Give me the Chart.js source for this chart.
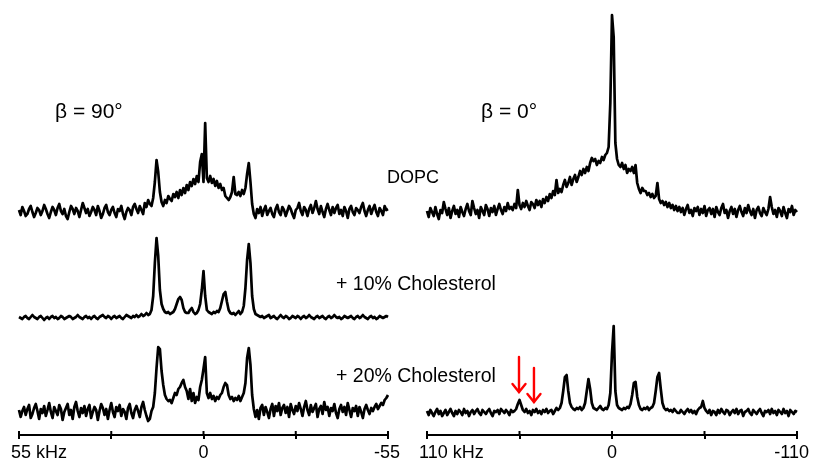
<!DOCTYPE html>
<html>
<head>
<meta charset="utf-8">
<script src="https://cdn.jsdelivr.net/npm/chart.js@4.4.0/dist/chart.umd.min.js"></script>
<style>
  body { margin: 0; background: #fff; }
  #wrap { position: relative; width: 814px; height: 461px; overflow: hidden; font-family: "Liberation Sans", Arial, sans-serif; }
  canvas { position: absolute; top: 0; }
  .lbl { position: absolute; white-space: nowrap; line-height: 1; color: #000; }
</style>
</head>
<body>
<div id="wrap">
  <canvas id="left" width="407" height="461" style="left:0"></canvas>
  <canvas id="right" width="407" height="461" style="left:407px"></canvas>
  <div class="lbl" style="left:55px;top:100px;font-size:21px">β = 90°</div>
  <div class="lbl" style="left:481px;top:100px;font-size:21px">β = 0°</div>
  <div class="lbl" style="left:387px;top:168px;font-size:18px">DOPC</div>
  <div class="lbl" style="left:336px;top:274px;font-size:19.5px">+ 10% Cholesterol</div>
  <div class="lbl" style="left:336px;top:366px;font-size:19.5px">+ 20% Cholesterol</div>
</div>
<script>
// frequency grid (kHz): start and step of the sampled points
const leftStart = 55, leftStep = -0.5;   // beta = 90, 55 .. -55 kHz
const rightStart = 110, rightStep = -1;  // beta = 0, 110 .. -110 kHz

// tick values and their labels
const leftTickValues = [55, 27.5, 0, -27.5, -55];
const leftTickLabels = ['55 kHz', '', '0', '', '-55'];
const rightTickValues = [110, 55, 0, -55, -110];
const rightTickLabels = ['110 kHz', '', '0', '', '-110'];

// spectra, intensity above each trace baseline
const leftDopc = [
  2,-3,5,1,-4,-2,3,6,0,-5, -1,4,2,-3,1,7,3,-2,-6,0, 5,2,-3,4,8,1,-2,3,-4,-7,
  0,6,3,-2,4,1,-5,2,9,4, -1,3,-4,0,5,2,-3,6,1,-6, -2,4,7,0,-3,2,5,-1,-5,3,
  1,6,-2,-7,0,4,2,-3,5,8, 3,-1,6,2,-2,9,5,12,8,6, 14,30,52,40,20,10,6,12,9,16,
  13,11,18,15,20,14,22,17,24,19, 27,22,30,26,33,28,36,30,50,58, 30,89,34,30,36,29,33,26,31,24,
  28,22,24,16,14,12,15,20,35,18, 17,20,16,22,18,24,38,49,30,8, -2,-6,3,-1,5,-4,2,6,-3,1,
  4,-2,-5,3,7,0,-3,5,2,-4, 1,6,3,-2,-6,2,4,9,1,-3, 5,2,-4,3,7,-1,4,11,3,-2,
  6,0,-5,3,8,2,-3,5,-1,4, 7,-2,2,-4,5,1,-6,3,6,0, -3,4,2,-1,5,9,1,-4,2,6,
  -2,3,7,0,-4,4,1,-3,6,2, 3];
const leftChol10 = [
  1,0,-1,1,2,0,-1,1,3,1, 0,-1,1,2,0,-2,0,1,-1,1, 2,0,1,-1,0,2,1,-1,0,1,
  2,1,-1,0,1,3,1,0,-1,1, 2,0,1,-1,1,2,0,-1,1,2, 3,1,0,2,1,-1,1,2,0,1,
  2,0,-1,1,3,2,1,0,2,1, 3,1,2,4,2,3,5,3,4,8, 22,55,80,62,28,14,9,6,5,6,
  4,5,6,9,14,19,21,18,10,6, 5,5,8,10,6,4,5,8,14,28, 47,22,8,6,5,4,6,5,7,6,
  10,17,24,26,16,8,5,4,5,3, 5,7,4,6,12,30,58,74,55,22, 9,4,3,2,1,2,0,1,2,3,
  0,1,2,0,-1,1,3,1,0,2, 1,-1,0,2,1,0,2,1,-1,1, 2,0,1,3,1,0,-1,1,2,0,
  1,2,0,-1,1,2,0,1,3,1, 0,1,-1,0,2,1,0,1,2,0, -1,1,2,0,1,3,1,0,-1,1,
  2,0,1,-1,0,2,1,0,1,2, 1];
const leftChol20 = [
  3,-4,2,6,-2,4,8,-5,-1,5, 9,2,-6,4,0,7,-3,3,10,1, -5,6,2,-2,8,4,-7,1,5,9,
  -2,3,-6,6,11,2,-4,5,0,7, -3,4,8,-5,1,6,3,-7,2,9, 5,-2,4,-6,3,10,1,-4,6,2,
  8,-3,4,1,-6,5,9,0,-5,3, 7,2,-4,6,11,3,-3,-8,-6,2, 6,20,45,66,64,42,28,18,14,12,
  13,10,15,20,18,24,26,30,33,26, 22,14,24,12,20,10,16,13,26,33, 44,56,20,15,20,14,17,12,16,14,
  18,20,26,30,28,18,14,16,12,15, 13,17,12,16,20,30,55,65,48,18, 4,-4,3,-6,5,8,-2,6,1,-5,
  4,9,-3,7,2,10,-2,5,8,0, 6,-4,9,3,-1,7,2,10,4,-3, 6,12,3,-2,8,1,5,9,-4,4,
  7,-1,11,3,6,-3,5,2,9,0, -5,4,8,1,6,-2,10,3,-4,5, 2,7,-3,6,1,-5,4,8,3,-1,
  5,2,6,9,4,7,10,8,13,15, 18];
const rightDopc = [
  2,-4,5,1,-3,6,-1,-6,3,0, 11,4,-2,5,-5,2,7,-1,3,-4, 6,1,-3,4,9,2,-2,12,5,-1,
  3,-5,6,2,-2,8,4,-3,5,1, 7,-2,4,9,3,-1,6,2,10,4, 6,3,9,5,23,8,4,10,6,12,
  7,3,11,9,5,13,8,12,6,14, 10,16,12,19,15,22,18,33,20,24, 21,28,33,26,30,36,28,34,38,31,
  36,42,38,44,40,46,42,50,55,52, 54,48,52,50,56,53,58,60,66,110, 198,176,70,54,48,46,50,44,48,40,
  44,42,46,40,48,30,24,20,25,22, 22,18,20,16,19,15,17,30,14,10, 12,8,11,6,10,5,8,3,7,2,
  6,1,5,-2,4,8,0,3,-3,5, 2,6,-2,4,0,7,-3,3,5,-1, 4,-4,6,1,-2,5,9,0,3,-5,
  2,6,-1,4,-4,3,7,1,-3,5, 0,8,2,-2,4,-5,3,6,0,-3, 5,1,-2,4,16,6,-1,3,-4,5,
  2,-3,6,0,-5,4,1,7,-2,3, 1];
const rightChol20 = [
  2,-2,3,0,-3,1,4,-1,2,-3, 0,3,-2,1,4,0,-3,2,-1,3, 1,-2,4,0,2,-3,1,3,-1,2,
  4,0,-2,3,1,-1,2,4,0,-3, 2,1,3,-1,4,2,0,3,1,-2, 3,1,2,4,9,13,8,3,1,4,
  0,2,-2,3,1,4,0,2,-1,3, 1,4,0,2,3,-1,2,5,3,5, 10,22,36,38,22,10,6,4,3,5,
  4,6,3,5,10,22,34,24,10,5, 4,3,5,7,4,3,5,4,8,20, 60,87,22,8,5,4,3,5,4,6,
  5,9,18,30,31,16,8,4,3,5, 4,6,3,5,6,10,22,36,40,24, 10,5,3,4,2,3,1,4,2,0,
  0,3,1,-1,2,4,1,3,0,2, -1,3,5,6,12,5,2,0,3,-2, 2,1,-2,3,0,4,1,-1,3,2,
  -2,1,3,0,4,-1,2,3,-3,1, 2,4,0,-2,3,1,-1,2,4,0, -3,2,1,3,-1,4,0,2,-2,3,
  1,-1,4,0,2,-3,3,1,-1,2, 1];

// red arrows on the beta = 0 / 20% trace (kHz)
const arrowKHz = [55.3, 46.4];

function toPoints(values, start, step, offset) {
  return values.map((v, i) => ({ x: start + i * step, y: v + offset }));
}

const lineStyle = { borderColor: '#000', borderWidth: 2.7, pointRadius: 0, tension: 0,
  fill: false, borderJoinStyle: 'round', clip: false };

const axisDecor = {
  id: 'axisDecor',
  afterDraw(chart, args, opts) {
    const { ctx, chartArea } = chart;
    const sx = chart.scales.x;
    const y0 = chartArea.bottom;
    ctx.save();
    ctx.strokeStyle = '#000';
    ctx.lineWidth = 2;
    opts.values.forEach(v => {
      const px = sx.getPixelForValue(v);
      ctx.beginPath(); ctx.moveTo(px, y0 - 4); ctx.lineTo(px, y0); ctx.stroke();
    });
    ctx.fillStyle = '#000';
    ctx.font = '18px "Liberation Sans", Arial, sans-serif';
    opts.values.forEach((v, i) => {
      const text = opts.labels[i];
      if (!text) return;
      const px = sx.getPixelForValue(v);
      if (i === 0) { ctx.textAlign = 'left'; ctx.fillText(text, px - 8, 458); }
      else if (i === opts.values.length - 1) { ctx.textAlign = 'right'; ctx.fillText(text, px + 12, 458); }
      else { ctx.textAlign = 'center'; ctx.fillText(text, px, 458); }
    });
    // arrows
    (opts.arrows || []).forEach(a => {
      const px = sx.getPixelForValue(a.x);
      const top = chart.scales.y.getPixelForValue(a.top);
      const tip = chart.scales.y.getPixelForValue(a.tip);
      ctx.strokeStyle = '#ff0000';
      ctx.lineWidth = 2.4;
      ctx.lineCap = 'round';
      ctx.beginPath(); ctx.moveTo(px, top); ctx.lineTo(px, tip); ctx.stroke();
      ctx.beginPath(); ctx.moveTo(px - 6.5, tip - 8); ctx.lineTo(px, tip); ctx.lineTo(px + 6.5, tip - 8); ctx.stroke();
    });
    ctx.restore();
  }
};

function makeChart(id, datasets, min, max, ticks, labels, pad, arrows) {
  return new Chart(document.getElementById(id), {
    type: 'line',
    data: { datasets: datasets.map(d => Object.assign({ data: d }, lineStyle)) },
    options: {
      responsive: false,
      animation: false,
      events: [],
      layout: { padding: { left: pad[0], right: pad[1], top: 0, bottom: 0 } },
      plugins: { legend: { display: false }, tooltip: { enabled: false },
        axisDecor: { values: ticks, labels: labels, arrows: arrows } },
      scales: {
        x: {
          type: 'linear', min: min, max: max, reverse: true,
          afterBuildTicks: s => { s.ticks = ticks.map(v => ({ value: v })); },
          afterFit: s => { s.height = 26; },
          ticks: { display: false },
          grid: { display: true, drawOnChartArea: false, drawTicks: true, tickLength: 4, color: '#000', lineWidth: 2 },
          border: { display: true, color: '#000', width: 2 }
        },
        y: { display: false, min: 0, max: 435 }
      }
    },
    plugins: [axisDecor]
  });
}

makeChart('left', [
  toPoints(leftDopc, leftStart, leftStep, 223),
  toPoints(leftChol10, leftStart, leftStep, 117),
  toPoints(leftChol20, leftStart, leftStep, 22)
], -55, 55, leftTickValues, leftTickLabels, [19, 19], []);

makeChart('right', [
  toPoints(rightDopc, rightStart, rightStep, 222),
  toPoints(rightChol20, rightStart, rightStep, 22)
], -110, 110, rightTickValues, rightTickLabels, [20, 17], [
  { x: arrowKHz[0], top: 78, tip: 43 },
  { x: arrowKHz[1], top: 67, tip: 33 }
]);
</script>
</body>
</html>
